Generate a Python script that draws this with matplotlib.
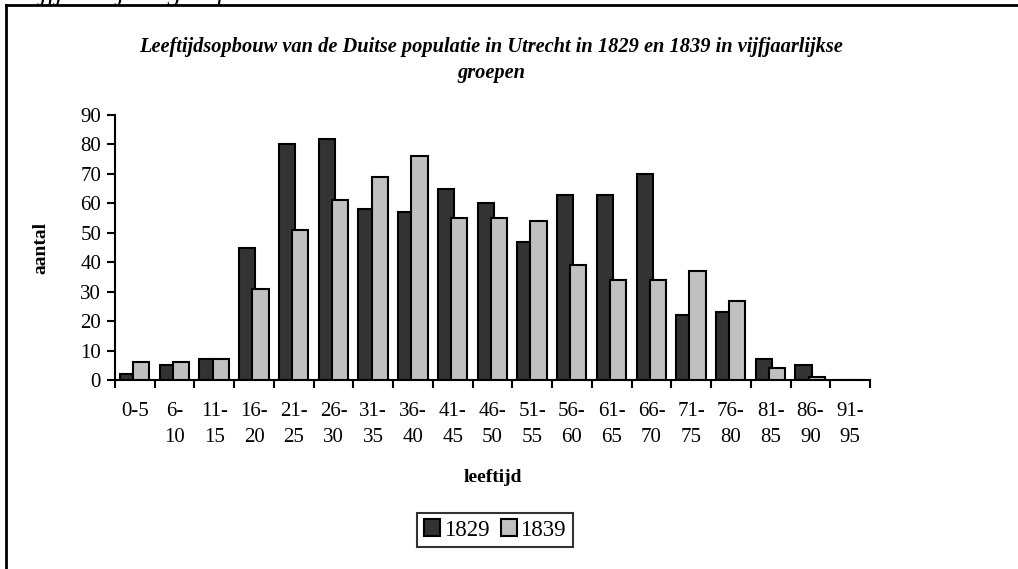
import matplotlib
matplotlib.use("Agg")
import matplotlib.pyplot as plt
import numpy as np
from matplotlib.lines import Line2D

plt.rcParams['font.family'] = 'Liberation Serif'

# leeftijdsgroepen en aantallen
groepen = ["0-5", "6-\n10", "11-\n15", "16-\n20", "21-\n25", "26-\n30", "31-\n35",
           "36-\n40", "41-\n45", "46-\n50", "51-\n55", "56-\n60", "61-\n65", "66-\n70",
           "71-\n75", "76-\n80", "81-\n85", "86-\n90", "91-\n95"]
aantal_1829 = [2, 5, 7, 45, 80, 82, 58, 57, 65, 60, 47, 63, 63, 70, 22, 23, 7, 5, 0]
aantal_1839 = [6, 6, 7, 31, 51, 61, 69, 76, 55, 55, 54, 39, 34, 34, 37, 27, 4, 1, 0]

W, H = 1018, 569
fig = plt.figure(figsize=(W / 100, H / 100), dpi=100)
ax = fig.add_axes([115 / W, (H - 380) / H, 755 / W, 265 / H])

x = np.arange(len(groepen)) + 0.5
breedte = 0.41
ax.bar(x - 0.17, aantal_1829, breedte, color="#333333", edgecolor="black",
       linewidth=1.5, label="1829", zorder=2)
ax.bar(x + 0.16, aantal_1839, breedte, color="#c0c0c0", edgecolor="black",
       linewidth=1.5, label="1839", zorder=3)

ax.set_xlim(0, len(groepen))
ax.set_ylim(0, 90)
ax.set_yticks(range(0, 91, 10))
ax.set_xticks(np.arange(len(groepen) + 1))
ax.set_xticklabels([])
ax.set_xticks(x, minor=True)
ax.set_xticklabels(groepen, minor=True, fontsize=15, linespacing=1.5, va="top")
ax.tick_params(axis="x", which="minor", length=0, pad=16)
ax.tick_params(axis="x", which="major", length=6, width=1.5, direction="out")
ax.tick_params(axis="y", length=6, width=1.5, direction="out", labelsize=15, pad=4)

for s in ["top", "right"]:
    ax.spines[s].set_visible(False)
ax.spines["left"].set_linewidth(1.5)
ax.spines["bottom"].set_linewidth(1.5)

ax.set_ylabel("aantal", fontsize=14, fontweight="bold", labelpad=22)
ax.set_xlabel("leeftijd", fontsize=14, fontweight="bold", labelpad=16)

fig.text(491 / W, 1 - 60 / H,
         "Leeftijdsopbouw van de Duitse populatie in Utrecht in 1829 en 1839 in vijfjaarlijkse\ngroepen",
         ha="center", va="center", fontsize=14.7, fontweight="bold", style="italic",
         linespacing=1.35)

# afgesneden tekst bovenaan
fig.text(20 / W, 1.0, "vijfjaarlijkse groepen", ha="left", va="baseline",
         fontsize=20, style="italic")

leg = ax.legend(loc="center", bbox_to_anchor=(495 / W, 1 - 530 / H),
                bbox_transform=fig.transFigure, ncol=2, frameon=True,
                fancybox=False, edgecolor="black", fontsize=16.5, handlelength=0.7,
                handleheight=0.7, handletextpad=0.15, columnspacing=0.5,
                borderpad=0.3)
leg.get_frame().set_linewidth(1.5)

# kader
fig.add_artist(Line2D([6 / W, 6 / W], [0, 1 - 5 / H], color="black", linewidth=2))
fig.add_artist(Line2D([6 / W, 1], [1 - 5 / H, 1 - 5 / H], color="black", linewidth=2))

fig.savefig("out.png", dpi=100)
